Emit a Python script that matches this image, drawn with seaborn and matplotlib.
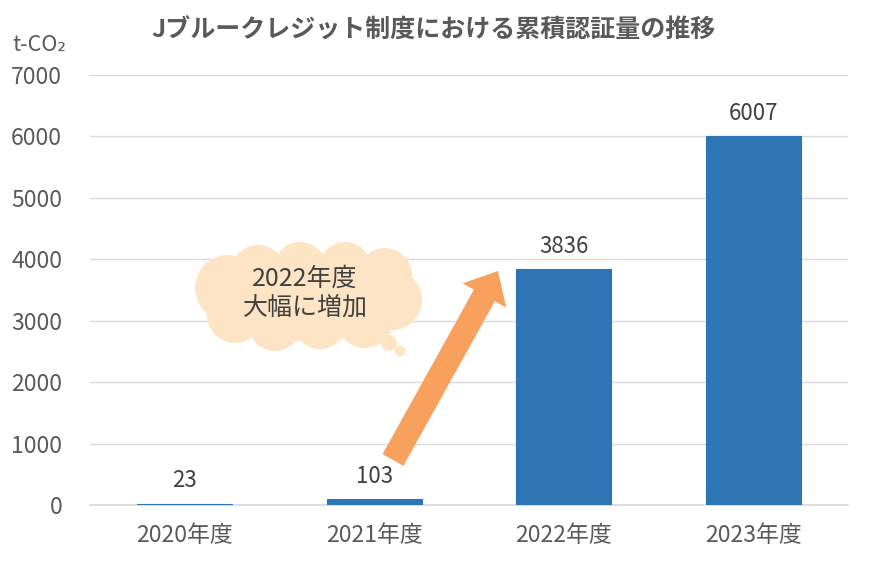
import numpy as np
import pandas as pd
import matplotlib
matplotlib.use('Agg')
import matplotlib.pyplot as plt
import seaborn as sns
from matplotlib.patches import Ellipse, Circle, FancyArrow

# データ
years = ['2020年度', '2021年度', '2022年度', '2023年度']
values = [23, 103, 3836, 6007]
yticks = [0, 1000, 2000, 3000, 4000, 5000, 6000, 7000]

title = 'Jブルークレジット制度における累積認証量の推移'
unit_label = 't-CO₂'
callout = '2022年度\n大幅に増加'

sns.set_theme(style='white')
plt.rcParams['font.family'] = ['Noto Sans CJK JP', 'DejaVu Sans']

df = pd.DataFrame({'year': years, 'value': values})

fig = plt.figure(figsize=(8.75, 5.72), dpi=100)
ax = fig.add_axes([90/875, 67/572, 758/875, 430/572])

sns.barplot(data=df, x='year', y='value', color='#2E75B6', saturation=1,
            width=0.5, ax=ax, zorder=3, edgecolor='#2E75B6', linewidth=0.8)

ax.set_ylim(0, 7000)
ax.set_xlim(-0.5, 3.5)
ax.set_yticks(yticks)
ax.set_yticklabels([str(t) for t in yticks])
ax.yaxis.grid(True, color='#D9D9D9', linewidth=1)
ax.set_axisbelow(True)
for s in ['top', 'right', 'left']:
    ax.spines[s].set_visible(False)
ax.spines['bottom'].set_color('#D9D9D9')
ax.tick_params(axis='y', length=0, labelsize=16.5, labelcolor='#595959', pad=20)
ax.tick_params(axis='x', length=0, labelsize=16.5, labelcolor='#595959', pad=14)
ax.set_xlabel('')
ax.set_ylabel('')

ax.bar_label(ax.containers[0], labels=[str(v) for v in values],
             padding=8, fontsize=16, color='#404040')

fig.text(434/875, 1 - 31/572, title, ha='center', va='center',
         fontsize=18, fontweight='bold', color='#595959')
fig.text(12/875, 1 - 45/572, unit_label, ha='left', va='center',
         fontsize=15.5, color='#595959')

# 吹き出し・矢印用のオーバーレイ（ピクセル座標）
ov = fig.add_axes([0, 0, 1, 1], zorder=5)
ov.set_xlim(0, 875)
ov.set_ylim(572, 0)
ov.axis('off')
ov.patch.set_alpha(0)

cloud = '#FCE4C4'
ov.add_patch(Ellipse((308, 297), 205, 88, color=cloud, lw=0))
bumps = [(228, 288, 33), (235, 315, 28), (275, 325, 26), (320, 323, 26),
         (365, 320, 28), (392, 300, 30), (385, 275, 27), (345, 268, 26),
         (300, 268, 26), (258, 272, 27)]
for cx, cy, r in bumps:
    ov.add_patch(Circle((cx, cy), r, color=cloud, lw=0))
ov.add_patch(Circle((389, 343), 8, color=cloud, lw=0))
ov.add_patch(Circle((400, 351), 5.5, color=cloud, lw=0))
ov.text(305, 293, callout, ha='center', va='center', fontsize=18,
        color='#404040', linespacing=1.15)

ov.add_patch(FancyArrow(393, 460, 105, -189, width=24, head_width=50,
                        head_length=28, length_includes_head=True,
                        color='#F8A15F', lw=0))

fig.savefig('out.png', dpi=100)
